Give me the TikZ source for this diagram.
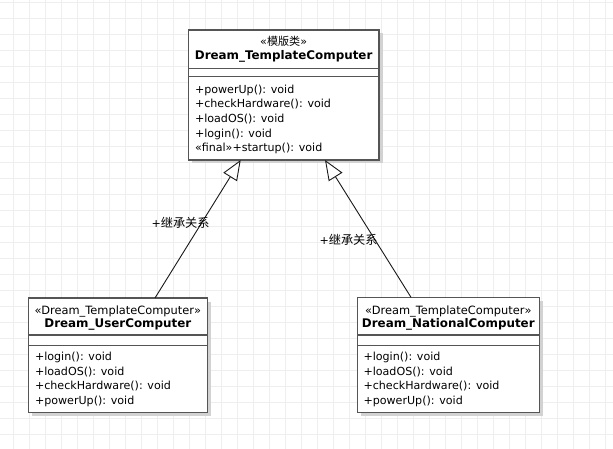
\documentclass[tikz,border=0pt]{standalone}
\usepackage{fontspec}
\setmainfont{DejaVu Sans}
\newfontfamily\cjk{Noto Sans CJK SC}
\usetikzlibrary{arrows.meta}
\definecolor{gridc}{HTML}{EEEEEE}
\definecolor{boxline}{HTML}{555555}
\definecolor{shadowc}{HTML}{D2D2D2}
\tikzset{
  classbox/.style={draw=boxline, line width=1.4pt, fill=white, inner sep=0pt, outer sep=0pt, anchor=north west},
  shadowbox/.style={fill=shadowc, draw=none, inner sep=0pt, outer sep=0pt, anchor=north west},
  sepline/.style={draw=boxline, line width=1.4pt},
  txt/.style={font=\fontsize{11.1pt}{13pt}\selectfont, inner sep=0pt, outer sep=0pt, text=black},
  mtxt/.style={txt, anchor=base west},
  ctxt/.style={txt, anchor=base},
  stxt/.style={ctxt, font=\fontsize{11.4pt}{13pt}\selectfont},
  ntxt/.style={ctxt, font=\fontsize{11.9pt}{13pt}\selectfont\bfseries},
  inherit/.style={draw=black!90, line width=0.9pt, -{Triangle[open, length=20pt, width=16pt, fill=white]}},
}
\newcommand{\cjklab}[1]{{\cjk\fontsize{12.2pt}{13pt}\selectfont #1}}
\begin{document}
\begin{tikzpicture}[x=1pt,y=-1pt]
\useasboundingbox (0,0) rectangle (613,449);
\fill[white] (0,0) rectangle (613,449);
% grid
\foreach \gx in {0,...,37} {\draw[gridc, line width=0.75pt] (13.3+16*\gx,0) -- (13.3+16*\gx,449);}
\foreach \gy in {0,...,28} {\draw[gridc, line width=0.75pt] (0,2.7+16*\gy) -- (613,2.7+16*\gy);}

% ---------- parent ----------
\node[shadowbox, minimum width=190.7pt, minimum height=130pt] (pshadow) at (191.8,33.5) {};
\node[classbox, minimum width=190.7pt, minimum height=130pt] (parent) at (188.3,30) {};
\draw[sepline] (parent.west |- {(0,68.3)}) -- (parent.east |- {(0,68.3)});
\draw[sepline] (parent.west |- {(0,76.7)}) -- (parent.east |- {(0,76.7)});
\node[ctxt] (pst) at (283.65,46) {«{\cjk 模版类}»};
\node[ntxt] (pname) at (283.65,59.3) {Dream\_TemplateComputer};
\node[mtxt] (pm1) at (195,93.4) {+powerUp(): void};
\node[mtxt] (pm2) at (195,108.0) {+checkHardware(): void};
\node[mtxt] (pm3) at (195,122.6) {+loadOS(): void};
\node[mtxt] (pm4) at (195,137.2) {+login(): void};
\node[mtxt] (pm5) at (195,151.8) {«final»+startup(): void};

% ---------- left child ----------
\node[shadowbox, minimum width=179pt, minimum height=114.7pt] (lshadow) at (31.8,301.5) {};
\node[classbox, minimum width=179pt, minimum height=114.7pt] (lchild) at (28.3,298) {};
\draw[sepline] (lchild.west |- {(0,335)}) -- (lchild.east |- {(0,335)});
\draw[sepline] (lchild.west |- {(0,345.3)}) -- (lchild.east |- {(0,345.3)});
\node[stxt] (lst) at (117.8,314) {«Dream\_TemplateComputer»};
\node[ntxt] (lname) at (117.8,327.5) {Dream\_UserComputer};
\node[mtxt] (lm1) at (35,360.7) {+login(): void};
\node[mtxt] (lm2) at (35,375.3) {+loadOS(): void};
\node[mtxt] (lm3) at (35,389.9) {+checkHardware(): void};
\node[mtxt] (lm4) at (35,404.5) {+powerUp(): void};

% ---------- right child ----------
\node[shadowbox, minimum width=182pt, minimum height=115.4pt] (rshadow) at (360.8,300.8) {};
\node[classbox, minimum width=182pt, minimum height=115.4pt] (rchild) at (357.3,297.3) {};
\draw[sepline] (rchild.west |- {(0,335)}) -- (rchild.east |- {(0,335)});
\draw[sepline] (rchild.west |- {(0,345.3)}) -- (rchild.east |- {(0,345.3)});
\node[stxt] (rst) at (448.3,314) {«Dream\_TemplateComputer»};
\node[ntxt] (rname) at (448.3,327.5) {Dream\_NationalComputer};
\node[mtxt] (rm1) at (363.5,360.7) {+login(): void};
\node[mtxt] (rm2) at (363.5,375.3) {+loadOS(): void};
\node[mtxt] (rm3) at (363.5,389.9) {+checkHardware(): void};
\node[mtxt] (rm4) at (363.5,404.5) {+powerUp(): void};

% ---------- connectors ----------
\coordinate (ptipL) at (240.7,160);
\coordinate (ptipR) at (325,160);
\coordinate (lend) at (155,298);
\coordinate (rend) at (411,297.3);
\draw[inherit] (lend) -- (ptipL);
\draw[inherit] (rend) -- (ptipR);
\node[mtxt] (lab1) at (151.5,227.3) {+\cjklab{继承关系}};
\node[mtxt] (lab2) at (319.5,244.0) {+\cjklab{继承关系}};
\end{tikzpicture}
\end{document}
